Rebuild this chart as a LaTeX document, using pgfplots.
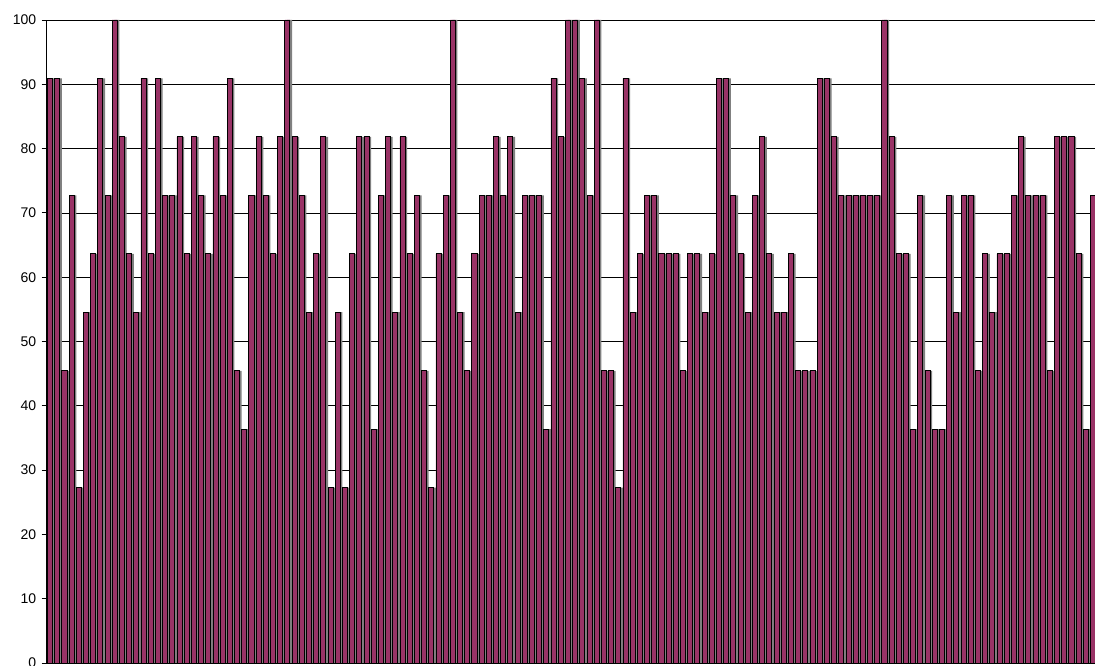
\documentclass[border=0pt]{standalone}
\usepackage{fontspec}
\setmainfont{Liberation Sans}
\usepackage{pgfplots}
\usepackage{pgfplotstable}
\pgfplotsset{compat=1.18}
\definecolor{plum}{RGB}{153,51,102}
\definecolor{shadowgray}{RGB}{128,128,128}
\pgfplotstableread{
x v
1 90.91
2 90.91
3 45.45
4 72.73
5 27.27
6 54.55
7 63.64
8 90.91
9 72.73
10 100
11 81.82
12 63.64
13 54.55
14 90.91
15 63.64
16 90.91
17 72.73
18 72.73
19 81.82
20 63.64
21 81.82
22 72.73
23 63.64
24 81.82
25 72.73
26 90.91
27 45.45
28 36.36
29 72.73
30 81.82
31 72.73
32 63.64
33 81.82
34 100
35 81.82
36 72.73
37 54.55
38 63.64
39 81.82
40 27.27
41 54.55
42 27.27
43 63.64
44 81.82
45 81.82
46 36.36
47 72.73
48 81.82
49 54.55
50 81.82
51 63.64
52 72.73
53 45.45
54 27.27
55 63.64
56 72.73
57 100
58 54.55
59 45.45
60 63.64
61 72.73
62 72.73
63 81.82
64 72.73
65 81.82
66 54.55
67 72.73
68 72.73
69 72.73
70 36.36
71 90.91
72 81.82
73 100
74 100
75 90.91
76 72.73
77 100
78 45.45
79 45.45
80 27.27
81 90.91
82 54.55
83 63.64
84 72.73
85 72.73
86 63.64
87 63.64
88 63.64
89 45.45
90 63.64
91 63.64
92 54.55
93 63.64
94 90.91
95 90.91
96 72.73
97 63.64
98 54.55
99 72.73
100 81.82
101 63.64
102 54.55
103 54.55
104 63.64
105 45.45
106 45.45
107 45.45
108 90.91
109 90.91
110 81.82
111 72.73
112 72.73
113 72.73
114 72.73
115 72.73
116 72.73
117 100
118 81.82
119 63.64
120 63.64
121 36.36
122 72.73
123 45.45
124 36.36
125 36.36
126 72.73
127 54.55
128 72.73
129 72.73
130 45.45
131 63.64
132 54.55
133 63.64
134 63.64
135 72.73
136 81.82
137 72.73
138 72.73
139 72.73
140 45.45
141 81.82
142 81.82
143 81.82
144 63.64
145 36.36
146 72.73
}\datatable
\begin{document}
\begin{tikzpicture}
\begin{axis}[
  at={(46.4pt,3pt)}, anchor=south west,
  scale only axis,
  width=1050.2pt, height=643pt,
  xmin=0.5, xmax=146.5,
  ymin=0, ymax=100,
  ytick={0,10,...,100},
  xtick=\empty,
  separate axis lines,
  axis x line*=bottom,
  axis y line*=left,
  axis line style={black, line width=0.8pt},
  ymajorgrids,
  major grid style={black, line width=0.7pt},
  tick align=outside,
  major tick length=4.7pt,
  tick style={black, line width=0.8pt},
  /pgf/number format/assume math mode=true,
  tick label style={font=\fontsize{14}{16}\selectfont},
  yticklabel style={xshift=-2pt},
  ybar,
  bar width=0.7,
  clip=false,
]
\addplot[fill=shadowgray, draw=none, bar shift=0.3] table[x=x, y=v] {\datatable};
\addplot[fill=plum, draw=black, line width=0.8pt, bar shift=0] table[x=x, y=v] {\datatable};
\end{axis}
\pgfresetboundingbox
\useasboundingbox (0,0) rectangle (1095pt,666pt);
\end{tikzpicture}
\end{document}
